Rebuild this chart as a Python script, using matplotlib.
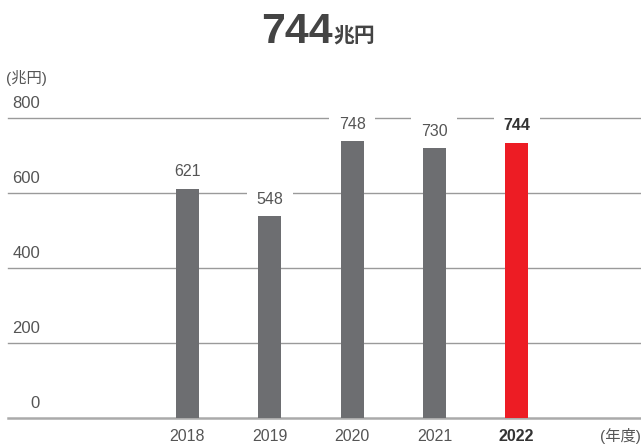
import matplotlib
matplotlib.use("Agg")
import matplotlib.pyplot as plt

plt.rcParams['font.family'] = ['Liberation Sans', 'Noto Sans CJK JP', 'DejaVu Sans']

years = ["2018", "2019", "2020", "2021", "2022"]
values = [621, 548, 748, 730, 744]
colors = ["#6d6e71", "#6d6e71", "#6d6e71", "#6d6e71", "#ed1c24"]
yticks = [0, 200, 400, 600, 800]
title_num = "744"
title_unit = "兆円"
y_unit = "(兆円)"
x_unit = "(年度)"

W, H = 641, 448
fig = plt.figure(figsize=(W / 100, H / 100), dpi=100)
ax = fig.add_axes([8 / W, (H - 418) / H, (W - 8) / W, 300 / H])
x = list(range(len(years)))
xmin, xmax = -2.18, 5.51
ax.set_xlim(xmin, xmax)
ax.set_ylim(0, 800)
for s in ax.spines.values():
    s.set_visible(False)
ax.set_xticks([])
ax.set_yticks([])

label_right = xmin + 32 / 82.25
for t in yticks:
    if t == 0:
        ax.axhline(t, color="#aaaaaa", lw=1.8, zorder=1, clip_on=False)
    else:
        ax.axhline(t, color="#9a9a9a", lw=1.0, zorder=1, clip_on=False)
    ax.annotate(str(t), (label_right, t), xytext=(0, 5), textcoords="offset points",
                ha="right", va="bottom", fontsize=12, color="#555555")

ax.bar(x, values, width=0.28, color=colors, zorder=2)

for i, v in enumerate(values):
    last = i == len(values) - 1
    ax.annotate(str(v), (i, v), xytext=(0, 9.5), textcoords="offset points",
                ha="center", va="center", fontsize=11.5,
                color="#333333" if last else "#555555",
                fontweight="bold" if last else "normal",
                bbox=dict(boxstyle="square,pad=0.6", fc="white", ec="none"),
                zorder=3, annotation_clip=False)
    ax.annotate(years[i], (i, 0), xytext=(0, -13), textcoords="offset points",
                ha="center", va="center", fontsize=11.5,
                color="#333333" if last else "#555555",
                fontweight="bold" if last else "normal", annotation_clip=False)

ax.annotate(x_unit, (xmax, 0), xytext=(0, -13), textcoords="offset points",
            ha="right", va="center", fontsize=11, color="#555555", annotation_clip=False)
fig.text(6 / W, 1 - 78 / H, y_unit, ha="left", va="center", fontsize=11, color="#555555")

t1 = fig.text(0, 0, title_num, fontsize=31, fontweight="bold", color="#444444",
              ha="left", va="baseline")
t2 = fig.text(0, 0, title_unit, fontsize=15, fontweight="bold", color="#444444",
              ha="left", va="baseline")
fig.canvas.draw()
r = fig.canvas.get_renderer()
w1 = t1.get_window_extent(r).width
w2 = t2.get_window_extent(r).width
total = w1 + w2 + 1
left = 318 - total / 2
base_y = (H - 43) / H
t1.set_position((left / W, base_y))
t2.set_position(((left + w1 + 1) / W, base_y))

fig.savefig("out.png", dpi=100)
